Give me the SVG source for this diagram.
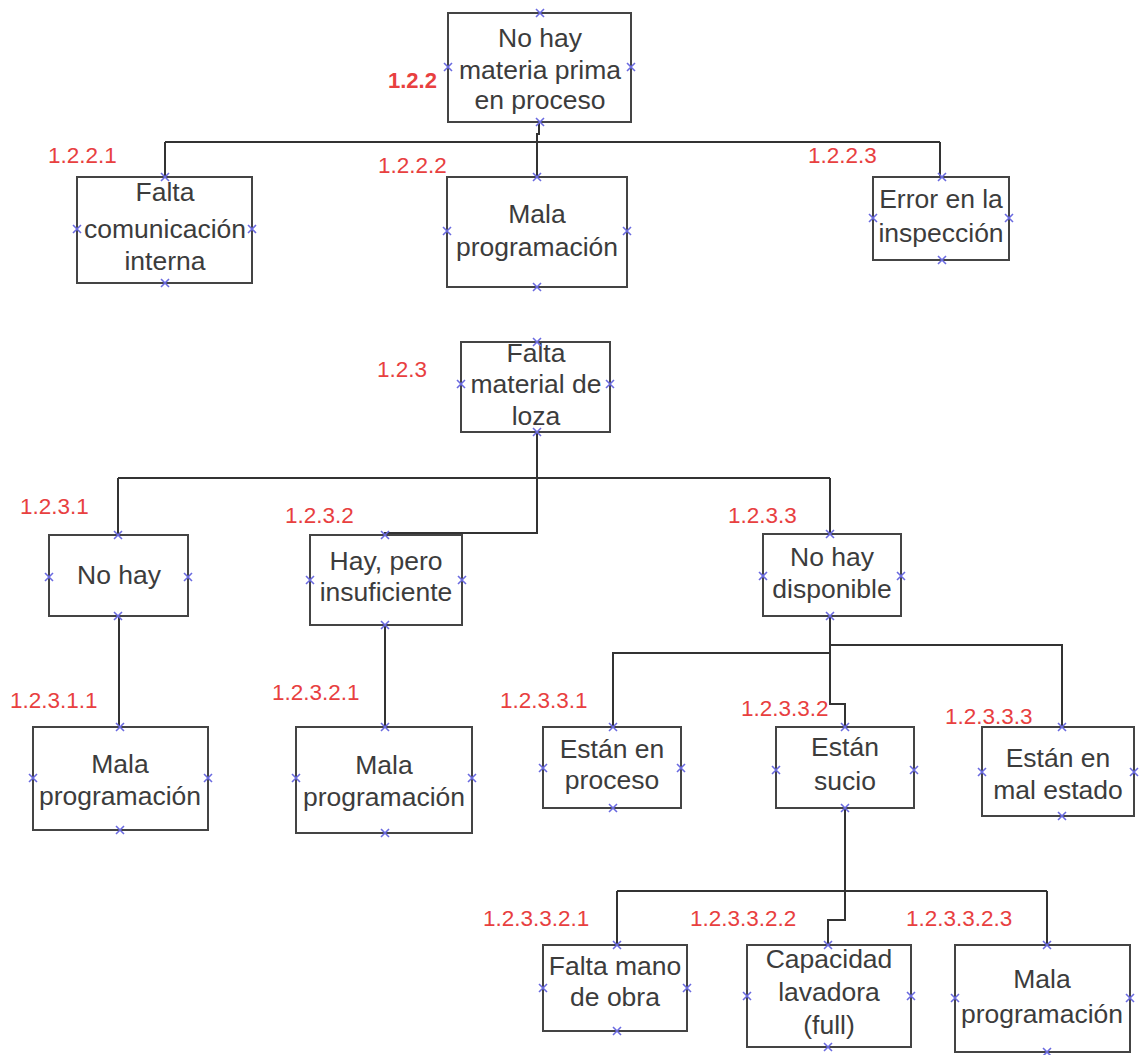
<svg xmlns="http://www.w3.org/2000/svg" xmlns:xlink="http://www.w3.org/1999/xlink" width="1140" height="1055" viewBox="0 0 1140 1055">
  <style>
    .box { fill: #ffffff; stroke: #444444; stroke-width: 2; }
    .txt { font-family: "Liberation Sans", Arial, sans-serif; font-size: 26.5px; fill: #3c3c3c; text-anchor: middle; }
    .lbl { font-family: "Liberation Sans", Arial, sans-serif; font-size: 22.5px; fill: #e8403f; }
    .lbl.b { font-weight: bold; font-size: 22px; }
    .conn { fill: none; stroke: #333333; stroke-width: 2; }
  </style>
  <defs>
    <!-- connection point marker -->
    <path id="pt" d="M-4,-4 L4,4 M-4,4 L4,-4" stroke="#6a6ae0" stroke-width="1.6" fill="none"/>
  </defs>
  <rect width="1140" height="1055" fill="#ffffff"/>

  <!-- connectors -->
  <g id="connectors" class="conn">
    <path d="M539,122 V134 H537 V142"/>
    <path d="M165,142 H940"/>
    <path d="M165,142 V177 M537,142 V177 M940,142 V177"/>

    <path d="M537,432 V533 H385 V535"/>
    <path d="M118,478 H830"/>
    <path d="M118,478 V535 M830,478 V534"/>

    <path d="M119,616 V727"/>
    <path d="M385,625 V727"/>

    <path d="M830,616 V704 H845 V727"/>
    <path d="M830,653 H613 V727"/>
    <path d="M831,645 H1062 V727"/>

    <path d="M845,808 V920 H828 V945"/>
    <path d="M617,891 H1047"/>
    <path d="M617,891 V945 M1047,891 V945"/>
  </g>

  <!-- 1.2.2 -->
  <g id="n122">
    <rect class="box" x="448" y="13" width="183" height="109"/>
    <text class="txt" x="540" y="47">No hay</text>
    <text class="txt" x="540" y="79">materia prima</text>
    <text class="txt" x="540" y="109">en proceso</text>
    <text class="lbl b" x="388" y="88">1.2.2</text>
    <use xlink:href="#pt" x="540" y="13"/><use xlink:href="#pt" x="540" y="122"/>
    <use xlink:href="#pt" x="448" y="67"/><use xlink:href="#pt" x="631" y="67"/>
  </g>

  <g id="n1221">
    <rect class="box" x="77" y="177" width="175" height="106"/>
    <text class="txt" x="165" y="201">Falta</text>
    <text class="txt" x="165" y="238">comunicación</text>
    <text class="txt" x="165" y="270">interna</text>
    <text class="lbl" x="48" y="163">1.2.2.1</text>
    <use xlink:href="#pt" x="165" y="177"/><use xlink:href="#pt" x="165" y="283"/>
    <use xlink:href="#pt" x="77" y="229"/><use xlink:href="#pt" x="252" y="229"/>
  </g>

  <g id="n1222">
    <rect class="box" x="447" y="177" width="180" height="110"/>
    <text class="txt" x="537" y="223">Mala</text>
    <text class="txt" x="537" y="256">programación</text>
    <text class="lbl" x="378" y="173">1.2.2.2</text>
    <use xlink:href="#pt" x="537" y="177"/><use xlink:href="#pt" x="537" y="287"/>
    <use xlink:href="#pt" x="447" y="231"/><use xlink:href="#pt" x="627" y="231"/>
  </g>

  <g id="n1223">
    <rect class="box" x="873" y="177" width="136" height="83"/>
    <text class="txt" x="941" y="208">Error en la</text>
    <text class="txt" x="941" y="242">inspección</text>
    <text class="lbl" x="808" y="163">1.2.2.3</text>
    <use xlink:href="#pt" x="942" y="177"/><use xlink:href="#pt" x="942" y="260"/>
    <use xlink:href="#pt" x="873" y="218"/><use xlink:href="#pt" x="1009" y="218"/>
  </g>

  <!-- 1.2.3 -->
  <g id="n123">
    <rect class="box" x="461" y="342" width="149" height="90"/>
    <text class="txt" x="536" y="362">Falta</text>
    <text class="txt" x="536" y="393">material de</text>
    <text class="txt" x="536" y="425">loza</text>
    <text class="lbl" x="377" y="377">1.2.3</text>
    <use xlink:href="#pt" x="537" y="342"/><use xlink:href="#pt" x="537" y="432"/>
    <use xlink:href="#pt" x="461" y="384"/><use xlink:href="#pt" x="610" y="384"/>
  </g>

  <g id="n1231">
    <rect class="box" x="49" y="535" width="139" height="81"/>
    <text class="txt" x="119" y="584">No hay</text>
    <text class="lbl" x="20" y="514">1.2.3.1</text>
    <use xlink:href="#pt" x="118" y="535"/><use xlink:href="#pt" x="118" y="616"/>
    <use xlink:href="#pt" x="49" y="577"/><use xlink:href="#pt" x="188" y="577"/>
  </g>

  <g id="n1232">
    <rect class="box" x="310" y="535" width="152" height="90"/>
    <text class="txt" x="386" y="570">Hay, pero</text>
    <text class="txt" x="386" y="601">insuficiente</text>
    <text class="lbl" x="285" y="523">1.2.3.2</text>
    <use xlink:href="#pt" x="385" y="535"/><use xlink:href="#pt" x="385" y="625"/>
    <use xlink:href="#pt" x="310" y="580"/><use xlink:href="#pt" x="462" y="580"/>
  </g>

  <g id="n1233">
    <rect class="box" x="763" y="534" width="138" height="82"/>
    <text class="txt" x="832" y="566">No hay</text>
    <text class="txt" x="832" y="598">disponible</text>
    <text class="lbl" x="728" y="523">1.2.3.3</text>
    <use xlink:href="#pt" x="830" y="534"/><use xlink:href="#pt" x="830" y="616"/>
    <use xlink:href="#pt" x="763" y="576"/><use xlink:href="#pt" x="901" y="576"/>
  </g>

  <g id="n12311">
    <rect class="box" x="33" y="727" width="175" height="103"/>
    <text class="txt" x="120" y="773">Mala</text>
    <text class="txt" x="120" y="805">programación</text>
    <text class="lbl" x="10" y="708">1.2.3.1.1</text>
    <use xlink:href="#pt" x="120" y="727"/><use xlink:href="#pt" x="120" y="830"/>
    <use xlink:href="#pt" x="33" y="778"/><use xlink:href="#pt" x="208" y="778"/>
  </g>

  <g id="n12321">
    <rect class="box" x="296" y="727" width="176" height="106"/>
    <text class="txt" x="384" y="774">Mala</text>
    <text class="txt" x="384" y="806">programación</text>
    <text class="lbl" x="272" y="700">1.2.3.2.1</text>
    <use xlink:href="#pt" x="385" y="727"/><use xlink:href="#pt" x="385" y="833"/>
    <use xlink:href="#pt" x="296" y="778"/><use xlink:href="#pt" x="472" y="778"/>
  </g>

  <g id="n12331">
    <rect class="box" x="543" y="727" width="138" height="81"/>
    <text class="txt" x="612" y="758">Están en</text>
    <text class="txt" x="612" y="789">proceso</text>
    <text class="lbl" x="500" y="708">1.2.3.3.1</text>
    <use xlink:href="#pt" x="613" y="727"/><use xlink:href="#pt" x="613" y="808"/>
    <use xlink:href="#pt" x="543" y="768"/><use xlink:href="#pt" x="681" y="768"/>
  </g>

  <g id="n12332">
    <rect class="box" x="776" y="727" width="138" height="81"/>
    <text class="txt" x="845" y="756">Están</text>
    <text class="txt" x="845" y="790">sucio</text>
    <text class="lbl" x="741" y="716">1.2.3.3.2</text>
    <use xlink:href="#pt" x="845" y="727"/><use xlink:href="#pt" x="845" y="808"/>
    <use xlink:href="#pt" x="776" y="770"/><use xlink:href="#pt" x="914" y="770"/>
  </g>

  <g id="n12333">
    <rect class="box" x="982" y="727" width="152" height="89"/>
    <text class="txt" x="1058" y="767">Están en</text>
    <text class="txt" x="1058" y="799">mal estado</text>
    <text class="lbl" x="945" y="724">1.2.3.3.3</text>
    <use xlink:href="#pt" x="1062" y="727"/><use xlink:href="#pt" x="1062" y="816"/>
    <use xlink:href="#pt" x="982" y="772"/><use xlink:href="#pt" x="1134" y="772"/>
  </g>

  <g id="n123321">
    <rect class="box" x="543" y="945" width="144" height="86"/>
    <text class="txt" x="615" y="975">Falta mano</text>
    <text class="txt" x="615" y="1006">de obra</text>
    <text class="lbl" x="483" y="926">1.2.3.3.2.1</text>
    <use xlink:href="#pt" x="617" y="945"/><use xlink:href="#pt" x="617" y="1031"/>
    <use xlink:href="#pt" x="543" y="988"/><use xlink:href="#pt" x="687" y="988"/>
  </g>

  <g id="n123322">
    <rect class="box" x="747" y="945" width="164" height="102"/>
    <text class="txt" x="829" y="968">Capacidad</text>
    <text class="txt" x="829" y="1001">lavadora</text>
    <text class="txt" x="829" y="1034">(full)</text>
    <text class="lbl" x="690" y="926">1.2.3.3.2.2</text>
    <use xlink:href="#pt" x="828" y="945"/><use xlink:href="#pt" x="828" y="1047"/>
    <use xlink:href="#pt" x="747" y="996"/><use xlink:href="#pt" x="911" y="996"/>
  </g>

  <g id="n123323">
    <rect class="box" x="955" y="945" width="175" height="107"/>
    <text class="txt" x="1042" y="988">Mala</text>
    <text class="txt" x="1042" y="1023">programación</text>
    <text class="lbl" x="906" y="926">1.2.3.3.2.3</text>
    <use xlink:href="#pt" x="1047" y="945"/><use xlink:href="#pt" x="1047" y="1052"/>
    <use xlink:href="#pt" x="955" y="998"/><use xlink:href="#pt" x="1130" y="998"/>
  </g>
</svg>
